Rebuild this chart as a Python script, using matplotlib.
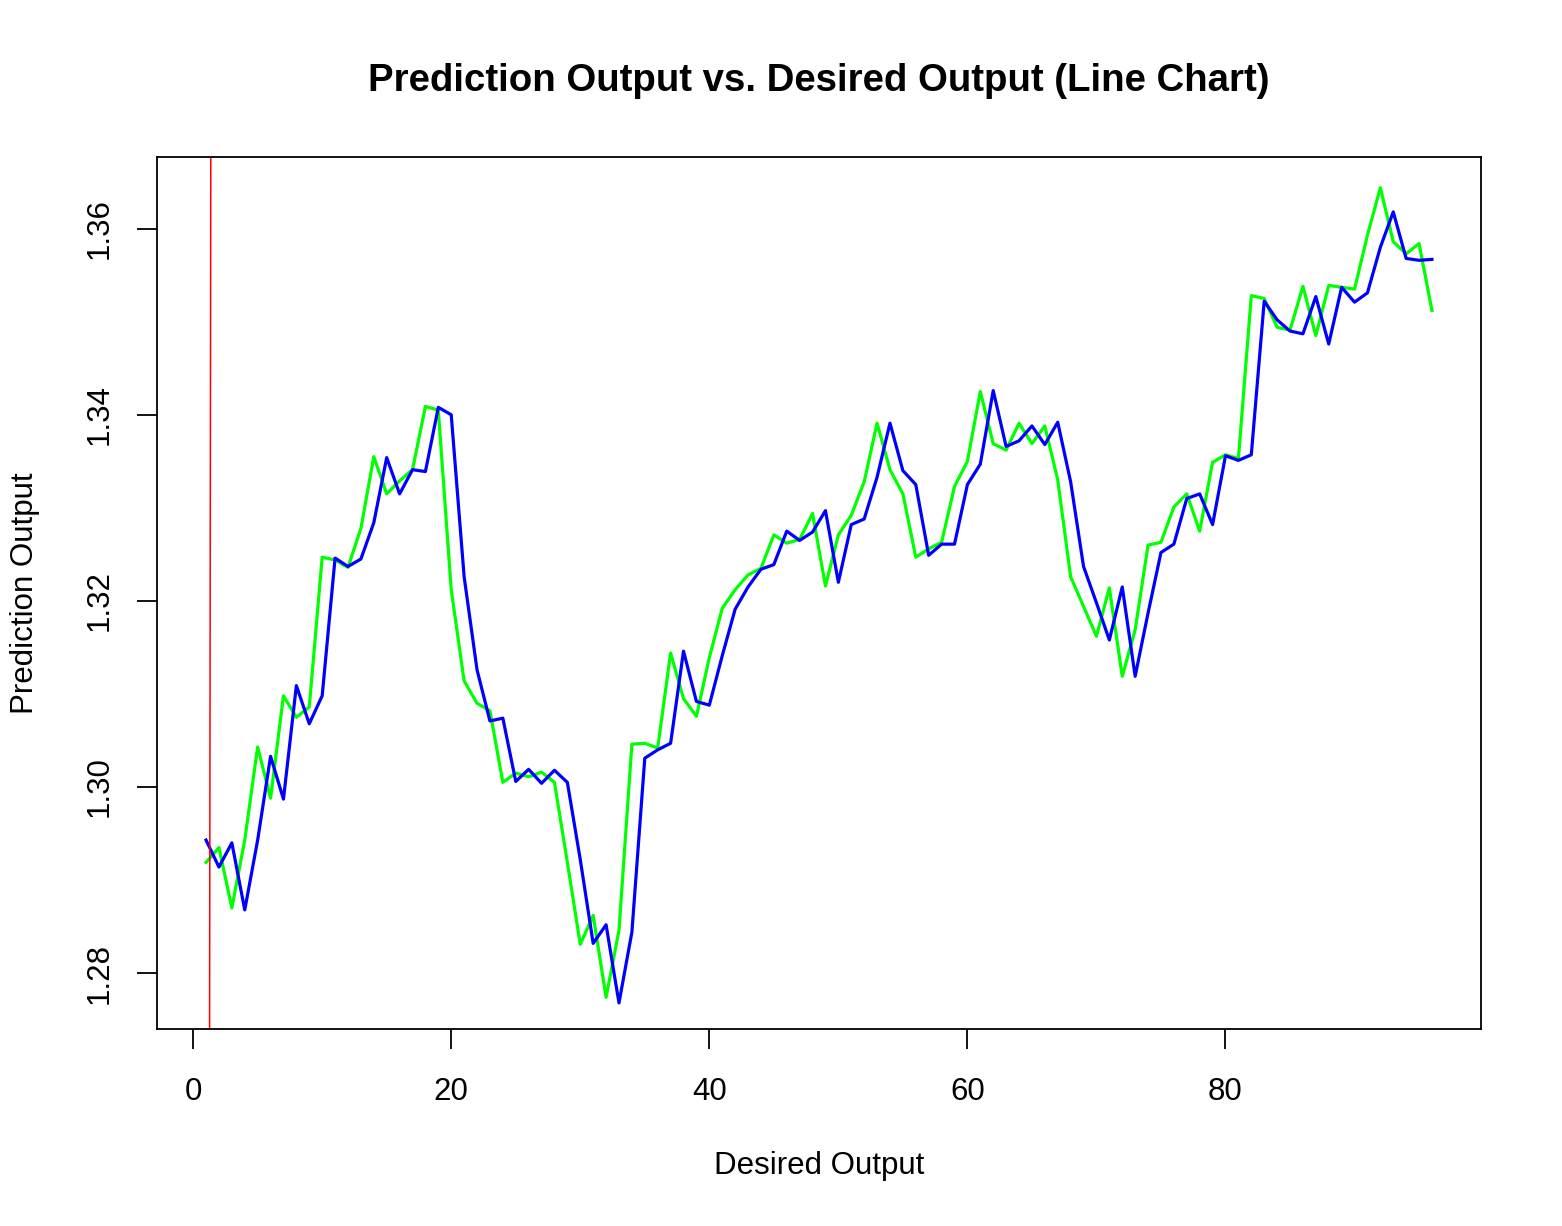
import numpy as np
import matplotlib
matplotlib.use("Agg")
import matplotlib.pyplot as plt

plt.rcParams['font.family'] = ['Liberation Sans', 'DejaVu Sans']

# --- DATA ---

desired = [
    1.2919, 1.2935, 1.2870, 1.2943, 1.3043, 1.2988, 1.3098, 1.3075, 1.3086, 1.3247,
    1.3244, 1.3236, 1.3278, 1.3355, 1.3315, 1.3329, 1.3341, 1.3409, 1.3405, 1.3212,
    1.3114, 1.3090, 1.3082, 1.3005, 1.3015, 1.3011, 1.3016, 1.3005, 1.2919, 1.2831,
    1.2862, 1.2774, 1.2846, 1.3046, 1.3047, 1.3042, 1.3144, 1.3095, 1.3076, 1.3139,
    1.3192, 1.3212, 1.3228, 1.3235, 1.3271, 1.3262, 1.3266, 1.3294, 1.3216, 1.3271,
    1.3292, 1.3328, 1.3391, 1.3341, 1.3315, 1.3247, 1.3256, 1.3263, 1.3323, 1.3350,
    1.3425, 1.3369, 1.3362, 1.3391, 1.3369, 1.3388, 1.3330, 1.3226, 1.3194, 1.3162,
    1.3214, 1.3119, 1.3169, 1.3260, 1.3263, 1.3301, 1.3315, 1.3275, 1.3349, 1.3357,
    1.3353, 1.3528, 1.3525, 1.3494, 1.3491, 1.3538, 1.3485, 1.3539, 1.3537, 1.3535,
    1.3593, 1.3644, 1.3586, 1.3573, 1.3584, 1.3512,
]

predicted = [
    1.2943, 1.2914, 1.2940, 1.2868, 1.2943, 1.3033, 1.2987, 1.3109, 1.3068, 1.3098,
    1.3246, 1.3237, 1.3245, 1.3284, 1.3354, 1.3315, 1.3341, 1.3339, 1.3408, 1.3400,
    1.3226, 1.3126, 1.3071, 1.3074, 1.3006, 1.3019, 1.3004, 1.3018, 1.3005, 1.2922,
    1.2832, 1.2852, 1.2768, 1.2844, 1.3031, 1.3040, 1.3047, 1.3146, 1.3092, 1.3088,
    1.3141, 1.3191, 1.3215, 1.3234, 1.3239, 1.3275, 1.3265, 1.3274, 1.3297, 1.3220,
    1.3282, 1.3288, 1.3333, 1.3391, 1.3340, 1.3325, 1.3249, 1.3261, 1.3261, 1.3325,
    1.3347, 1.3426, 1.3366, 1.3372, 1.3388, 1.3368, 1.3392, 1.3328, 1.3237, 1.3198,
    1.3158, 1.3215, 1.3119, 1.3187, 1.3252, 1.3261, 1.3310, 1.3315, 1.3282, 1.3356,
    1.3351, 1.3357, 1.3522, 1.3502, 1.3490, 1.3487, 1.3527, 1.3476, 1.3537, 1.3521,
    1.3531, 1.3580, 1.3618, 1.3568, 1.3566, 1.3567,
]

x_ticks = [0, 20, 40, 60, 80]
y_ticks = [1.28, 1.30, 1.32, 1.34, 1.36]

idx = np.arange(1, len(desired) + 1)

# --- FIGURE ---

fig = plt.figure(figsize=(15.62, 12.26), dpi=100)
ax = fig.add_axes([157 / 1562, 1 - 1029 / 1226, (1481 - 157) / 1562, (1029 - 157) / 1226])

ax.plot(idx, desired, color='#00FF00', linewidth=2.3)
ax.plot(idx, predicted, color='#0000FF', linewidth=2.3)
# abline(0, 1)
ax.axline((1.28, 1.28), slope=1, color='#FF0000', linewidth=1.1)

ax.set_xlim(-2.8, 99.8)
ax.set_ylim(1.2740, 1.3677)
ax.set_xticks(x_ticks)
ax.set_xticklabels([str(t) for t in x_ticks])
ax.set_yticks(y_ticks)
ax.set_yticklabels([f"{t:.2f}" for t in y_ticks])

for sp in ax.spines.values():
    sp.set_linewidth(1.3)
    sp.set_color('black')

ax.tick_params(axis='both', direction='out', length=14.5, width=1.3, labelsize=22.5)
ax.tick_params(axis='x', pad=20)
ax.tick_params(axis='y', pad=16)
for lab in ax.get_yticklabels():
    lab.set_rotation(90)
    lab.set_va('center')
    lab.set_ha('right')

fig.text(819 / 1562, 1 - 81 / 1226, "Prediction Output vs. Desired Output (Line Chart)",
         ha='center', va='center', fontsize=27.6, fontweight='bold')
fig.text(819 / 1562, 1 - 1166 / 1226, "Desired Output", ha='center', va='center', fontsize=22.5)
fig.text(25 / 1562, 1 - 593 / 1226, "Prediction Output", ha='center', va='center',
         rotation=90, fontsize=22.5)

fig.savefig("out.png", dpi=100)
